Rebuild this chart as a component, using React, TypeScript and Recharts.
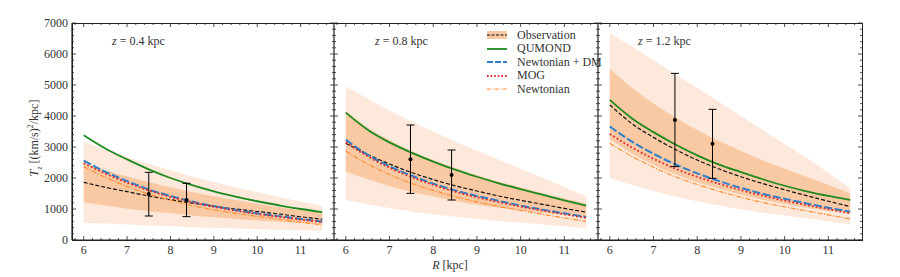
import React from "react";
import { Area, ComposedChart, ErrorBar, Line, Scatter, XAxis, YAxis } from "recharts";

const SERIF = "'Liberation Serif', 'DejaVu Serif', serif";

// radius grid shared by all three panels (kpc)
const R = [6, 6.5, 7, 7.5, 8, 8.5, 9, 9.5, 10, 10.5, 11, 11.5];

const X_TICKS = [6, 7, 8, 9, 10, 11];
const Y_TICKS = [0, 1000, 2000, 3000, 4000, 5000, 6000, 7000];
const X_DOMAIN = [5.73, 11.77];
const Y_DOMAIN = [0, 7000];

// z = 0.4 kpc
const obs04 = [1860, 1700, 1560, 1420, 1300, 1190, 1090, 1000, 920, 840, 750, 670];
const qumond04 = [3380, 2950, 2600, 2280, 2000, 1770, 1570, 1400, 1250, 1120, 1000, 900];
const dm04 = [2560, 2200, 1900, 1630, 1420, 1240, 1090, 970, 860, 770, 680, 600];
const mog04 = [2480, 2140, 1850, 1600, 1390, 1220, 1070, 950, 840, 750, 660, 580];
const newt04 = [2370, 2020, 1730, 1480, 1280, 1110, 970, 860, 760, 670, 570, 490];
const darkLo04 = [1215, 1110, 1010, 930, 860, 790, 730, 680, 630, 590, 550, 520];
const darkHi04 = [2480, 2250, 2050, 1870, 1700, 1550, 1410, 1290, 1170, 1060, 960, 860];
const lightLo04 = [560, 530, 500, 470, 440, 415, 390, 370, 350, 330, 315, 300];
const lightHi04 = [3170, 2920, 2680, 2460, 2250, 2050, 1870, 1700, 1540, 1390, 1240, 1100];
const errX04 = [7.5, 8.37];
const errY04 = [1484, 1290];
const errLo04 = [774, 753];
const errHi04 = [2183, 1828];

// z = 0.8 kpc
const obs08 = [3120, 2760, 2450, 2180, 1950, 1750, 1580, 1420, 1280, 1150, 1020, 900];
const qumond08 = [4110, 3560, 3150, 2820, 2530, 2270, 2040, 1830, 1640, 1460, 1280, 1110];
const dm08 = [3230, 2750, 2380, 2080, 1820, 1600, 1420, 1260, 1110, 980, 860, 740];
const mog08 = [3150, 2700, 2330, 2030, 1780, 1560, 1380, 1220, 1080, 950, 830, 710];
const newt08 = [2870, 2450, 2110, 1830, 1600, 1400, 1230, 1080, 950, 830, 710, 600];
const darkLo08 = [2205, 1960, 1740, 1560, 1400, 1260, 1140, 1040, 950, 870, 810, 750];
const darkHi08 = [4150, 3620, 3220, 2870, 2580, 2320, 2090, 1880, 1690, 1510, 1340, 1180];
const lightLo08 = [1290, 1150, 1030, 920, 830, 750, 680, 610, 555, 500, 440, 380];
const lightHi08 = [4950, 4560, 4180, 3830, 3500, 3180, 2880, 2590, 2300, 2010, 1710, 1400];
const errX08 = [7.48, 8.42];
const errY08 = [2602, 2097];
const errLo08 = [1505, 1290];
const errHi08 = [3710, 2903];

// z = 1.2 kpc
const obs12 = [4360, 3760, 3310, 2920, 2580, 2290, 2040, 1820, 1620, 1430, 1250, 1080];
const qumond12 = [4520, 3930, 3480, 3080, 2730, 2430, 2190, 1960, 1750, 1570, 1420, 1290];
const dm12 = [3660, 3180, 2780, 2440, 2150, 1900, 1680, 1490, 1330, 1180, 1040, 915];
const mog12 = [3420, 2990, 2620, 2300, 2040, 1810, 1610, 1430, 1270, 1130, 990, 860];
const newt12 = [3120, 2700, 2350, 2040, 1790, 1570, 1380, 1210, 1070, 940, 810, 680];
const darkLo12 = [3250, 2800, 2430, 2120, 1860, 1650, 1460, 1300, 1160, 1040, 940, 860];
const darkHi12 = [5520, 4920, 4400, 3950, 3550, 3190, 2870, 2570, 2300, 2040, 1780, 1510];
const lightLo12 = [2010, 1780, 1580, 1400, 1250, 1110, 990, 880, 790, 700, 600, 505];
const lightHi12 = [6670, 6250, 5800, 5350, 4900, 4450, 4000, 3550, 3100, 2650, 2170, 1670];
const errX12 = [7.49, 8.35];
const errY12 = [3871, 3108];
const errLo12 = [2366, 1989];
const errHi12 = [5376, 4215];

// minor ticks: every 0.2 kpc and every 200 units
const X_MINOR = Array.from({ length: 30 }, (_, i) => +(5.8 + 0.2 * i).toFixed(1));
const Y_MINOR = Array.from({ length: 36 }, (_, i) => i * 200);

const C = {
  obs: "#111111",
  qumond: "#1e8a1e",
  dm: "#2f7fc8",
  mog: "#e0282c",
  newt: "#ff8a2a",
  dark: "#f9c9a3",
  light: "#fde9db",
  frame: "#222222",
  text: "#333333",
};

function rows(obs, qu, dm, mog, nw, dLo, dHi, lLo, lHi) {
  return R.map((x, i) => ({
    x,
    obs: obs[i],
    qumond: qu[i],
    dm: dm[i],
    mog: mog[i],
    newt: nw[i],
    dark: [dLo[i], dHi[i]],
    light: [lLo[i], lHi[i]],
  }));
}

function errRows(xs, ys, lo, hi) {
  return xs.map((x, i) => ({ x, y: ys[i], err: [ys[i] - lo[i], hi[i] - ys[i]] }));
}

const dot = (p: any) => <circle cx={p.cx} cy={p.cy} r={2} fill="#000" />;

// inward ticks (major long, minor short); labels only where asked
function FrameTick(props: any) {
  const { x, y, payload, side, labels } = props;
  const v = payload.value;
  const isMajor = side === "b" || side === "t" ? X_TICKS.includes(v) : Y_TICKS.includes(v);
  const len = isMajor ? 4 : 2;
  const ln = { stroke: C.frame, strokeWidth: 0.8 };
  const font = { fontSize: 12, fill: C.text, fontFamily: SERIF };
  if (side === "b") {
    return (
      <g>
        <line x1={x} x2={x} y1={y} y2={y - len} {...ln} />
        {labels && isMajor && <text x={x} y={y + 14} textAnchor="middle" {...font}>{v}</text>}
      </g>
    );
  }
  if (side === "t") return <line x1={x} x2={x} y1={y} y2={y + len} {...ln} />;
  if (side === "l") {
    return (
      <g>
        <line x1={x} x2={x + len} y1={y} y2={y} {...ln} />
        {labels && isMajor && <text x={x - 4} y={y + 4} textAnchor="end" {...font}>{v}</text>}
      </g>
    );
  }
  return <line x1={x} x2={x - len} y1={y} y2={y} {...ln} />;
}

function Panel({ width, data, errs, showY }) {
  const frame = { stroke: C.frame, strokeWidth: 1.2 };
  return (
    <ComposedChart width={width} height={262} data={data} margin={{ top: 15, right: 1, left: 0, bottom: 0 }}>
      <XAxis xAxisId="b" dataKey="x" type="number" domain={X_DOMAIN} ticks={X_MINOR} interval={0} allowDataOverflow
        tickLine={false} axisLine={frame} tickSize={0} tickMargin={0} height={30}
        tick={<FrameTick side="b" labels />} />
      <XAxis xAxisId="t" dataKey="x" type="number" domain={X_DOMAIN} ticks={X_MINOR} interval={0} allowDataOverflow
        orientation="top" mirror tickLine={false} axisLine={false} tickSize={0} tickMargin={0}
        tick={<FrameTick side="t" />} />
      <YAxis yAxisId="l" type="number" domain={Y_DOMAIN} ticks={Y_MINOR} interval={0} allowDataOverflow
        width={showY ? 64 : 1} tickLine={false} axisLine={frame} tickSize={0} tickMargin={0}
        tick={<FrameTick side="l" labels={showY} />} />
      <YAxis yAxisId="r" type="number" domain={Y_DOMAIN} ticks={Y_MINOR} interval={0} allowDataOverflow
        orientation="right" mirror tickLine={false} axisLine={false} tickSize={0} tickMargin={0}
        tick={<FrameTick side="r" />} />

      {/* the outer band sits on the top/right axes: same scales, and it keeps those axes in use */}
      <Area xAxisId="t" yAxisId="r" dataKey="light" type="monotone" stroke="none" fill={C.light}
        fillOpacity={1} dot={false} activeDot={false} isAnimationActive={false} />
      <Area xAxisId="b" yAxisId="l" dataKey="dark" type="monotone" stroke="none" fill={C.dark}
        fillOpacity={1} dot={false} activeDot={false} isAnimationActive={false} />

      <Line xAxisId="b" yAxisId="l" dataKey="obs" type="monotone" stroke={C.obs} strokeWidth={1.2}
        strokeDasharray="4 2" dot={false} activeDot={false} isAnimationActive={false} />
      <Line xAxisId="b" yAxisId="l" dataKey="qumond" type="monotone" stroke={C.qumond} strokeWidth={1.8}
        dot={false} activeDot={false} isAnimationActive={false} />
      <Line xAxisId="b" yAxisId="l" dataKey="dm" type="monotone" stroke={C.dm} strokeWidth={2}
        strokeDasharray="8 2.5" dot={false} activeDot={false} isAnimationActive={false} />
      <Line xAxisId="b" yAxisId="l" dataKey="mog" type="monotone" stroke={C.mog} strokeWidth={1.8}
        strokeDasharray="1.8 2.2" dot={false} activeDot={false} isAnimationActive={false} />
      <Line xAxisId="b" yAxisId="l" dataKey="newt" type="monotone" stroke={C.newt} strokeWidth={1.1}
        strokeDasharray="5 1.5 1.2 1.5" dot={false} activeDot={false} isAnimationActive={false} />

      <Scatter xAxisId="b" yAxisId="l" data={errs} dataKey="y" fill="#000" shape={dot} isAnimationActive={false}>
        <ErrorBar dataKey="err" direction="y" width={4} stroke="#000" strokeWidth={1} isAnimationActive={false} />
      </Scatter>
    </ComposedChart>
  );
}

function LegendRow({ label, y, kind }) {
  const sw = {
    obs: { stroke: C.obs, dash: "3 1.5", w: 1.2 },
    qumond: { stroke: C.qumond, dash: undefined, w: 1.8 },
    dm: { stroke: C.dm, dash: "6 2", w: 2 },
    mog: { stroke: C.mog, dash: "1.6 2", w: 1.8 },
    newt: { stroke: C.newt, dash: "4 1.5 1 1.5", w: 1.1 },
  }[kind];
  return (
    <div style={{ position: "absolute", left: 0, top: y, height: 14, display: "flex", alignItems: "center" }}>
      <svg width={24} height={10} style={{ marginRight: 8 }}>
        {kind === "obs" && <rect x={2} y={1} width={20} height={8} fill={C.dark} />}
        <line x1={2} x2={22} y1={5} y2={5} stroke={sw.stroke} strokeWidth={sw.w} strokeDasharray={sw.dash} />
      </svg>
      <span style={{ fontFamily: SERIF, fontSize: 12, color: C.text, whiteSpace: "nowrap" }}>{label}</span>
    </div>
  );
}

const zLabel = (z: string, left: number) => (
  <div style={{ position: "absolute", left, top: 26, fontFamily: SERIF, fontSize: 12, color: C.text, whiteSpace: "nowrap" }}>
    <i>z</i> = {z} kpc
  </div>
);

export default function App() {
  const d04 = rows(obs04, qumond04, dm04, mog04, newt04, darkLo04, darkHi04, lightLo04, lightHi04);
  const d08 = rows(obs08, qumond08, dm08, mog08, newt08, darkLo08, darkHi08, lightLo08, lightHi08);
  const d12 = rows(obs12, qumond12, dm12, mog12, newt12, darkLo12, darkHi12, lightLo12, lightHi12);
  return (
    <div style={{ position: "relative", width: 884, height: 269 }}>
      <div style={{ position: "absolute", left: 0, top: 0 }}>
        <Panel width={327} data={d04} errs={errRows(errX04, errY04, errLo04, errHi04)} showY />
      </div>
      <div style={{ position: "absolute", left: 325, top: 0 }}>
        <Panel width={266} data={d08} errs={errRows(errX08, errY08, errLo08, errHi08)} showY={false} />
      </div>
      <div style={{ position: "absolute", left: 589, top: 0 }}>
        <Panel width={266} data={d12} errs={errRows(errX12, errY12, errLo12, errHi12)} showY={false} />
      </div>

      {/* outer box: top and right edges of the three panels */}
      <div style={{
        position: "absolute", left: 63.5, top: 14.5, width: 791, height: 218,
        border: `1.2px solid ${C.frame}`, boxSizing: "border-box", pointerEvents: "none",
      }} />

      {zLabel("0.4", 104)}
      {zLabel("0.8", 367)}
      {zLabel("1.2", 630)}

      <div style={{ position: "absolute", left: 477, top: 20, width: 118, height: 80 }}>
        <LegendRow label="Observation" y={0} kind="obs" />
        <LegendRow label="QUMOND" y={13.5} kind="qumond" />
        <LegendRow label="Newtonian + DM" y={27} kind="dm" />
        <LegendRow label="MOG" y={40.5} kind="mog" />
        <LegendRow label="Newtonian" y={54} kind="newt" />
      </div>

      <div style={{ position: "absolute", left: 402, top: 250, width: 80, textAlign: "center", fontFamily: SERIF, fontSize: 12, color: C.text }}>
        <i>R</i> [kpc]
      </div>
      <div style={{
        position: "absolute", left: 27, top: 130, transform: "translate(-50%, -50%) rotate(-90deg)",
        fontFamily: SERIF, fontSize: 12, color: C.text, whiteSpace: "nowrap",
      }}>
        <i>T</i><sub style={{ fontSize: 8 }}><i>z</i></sub> [(km/s)<sup style={{ fontSize: 8 }}>2</sup>/kpc]
      </div>
    </div>
  );
}
